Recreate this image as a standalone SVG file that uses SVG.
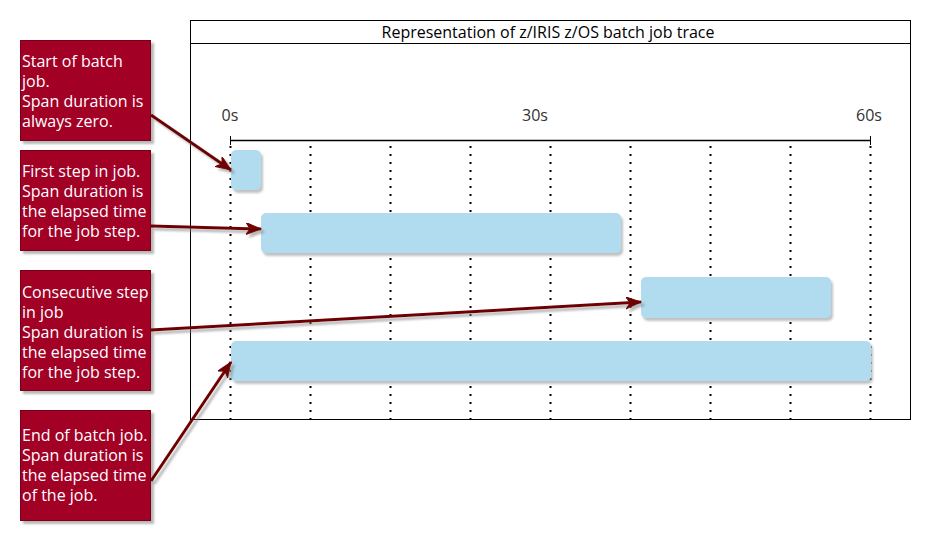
<svg xmlns="http://www.w3.org/2000/svg" width="931" height="545" viewBox="0 0 931 545">
<defs>
<filter id="sh" x="-20%" y="-20%" width="150%" height="150%">
<feDropShadow dx="3" dy="3" stdDeviation="1" flood-color="#888" flood-opacity="0.6"/>
</filter>
<filter id="shb" x="-20%" y="-20%" width="150%" height="150%">
<feDropShadow dx="2" dy="3" stdDeviation="0.8" flood-color="#999" flood-opacity="0.6"/>
</filter>
<marker id="ah" markerUnits="userSpaceOnUse" markerWidth="18" markerHeight="14" refX="15" refY="6" orient="auto">
<path d="M0,0 L15,6 L0,12 L4,6 Z" fill="#6f0000" stroke="#6f0000" stroke-width="1"/>
</marker>
<style>
.note{fill:#A30027;stroke:#7a0018;stroke-width:1;filter:url(#sh)}
.nt{font-family:"Open Sans","Noto Sans",sans-serif;font-size:16px;fill:#ffffff}
.bar{fill:#B1DCEF;filter:url(#shb)}
.dot{stroke:#000;stroke-width:2;stroke-dasharray:2 6}
.arr{stroke:#6f0000;stroke-width:3;fill:none;marker-end:url(#ah)}
.ax{font-family:"Open Sans","Noto Sans",sans-serif;font-size:16px;fill:#333}
</style>
</defs>
<rect width="931" height="545" fill="#ffffff"/>
<g id="frame">
<rect x="190.5" y="20.5" width="720" height="399" fill="none" stroke="#000" stroke-width="1"/>
<line x1="190" y1="43.5" x2="911" y2="43.5" stroke="#000" stroke-width="1"/>
<text x="548" y="38" text-anchor="middle" font-family="Open Sans, Noto Sans, sans-serif" font-size="16" fill="#000">Representation of z/IRIS z/OS batch job trace</text>
</g>
<g id="axis">
<line x1="230" y1="140.5" x2="870" y2="140.5" stroke="#000" stroke-width="1.5"/>
<line x1="230.5" y1="136" x2="230.5" y2="145" stroke="#000" stroke-width="1"/>
<line x1="870.5" y1="136" x2="870.5" y2="145" stroke="#000" stroke-width="1"/>
<text class="ax" x="230" y="121" text-anchor="middle">0s</text>
<text class="ax" x="535" y="121" text-anchor="middle">30s</text>
<text class="ax" x="869" y="121" text-anchor="middle">60s</text>
</g>
<g id="grid">
<line class="dot" x1="230.5" y1="146" x2="230.5" y2="420"/>
<line class="dot" x1="310.5" y1="146" x2="310.5" y2="420"/>
<line class="dot" x1="390.5" y1="146" x2="390.5" y2="420"/>
<line class="dot" x1="470.5" y1="146" x2="470.5" y2="420"/>
<line class="dot" x1="550.5" y1="146" x2="550.5" y2="420"/>
<line class="dot" x1="630.5" y1="146" x2="630.5" y2="420"/>
<line class="dot" x1="710.5" y1="146" x2="710.5" y2="420"/>
<line class="dot" x1="790.5" y1="146" x2="790.5" y2="420"/>
<line class="dot" x1="870.5" y1="146" x2="870.5" y2="420"/>
</g>
<g id="span-start"><rect class="bar" x="231" y="150" width="30" height="40" rx="5"/></g>
<g id="span-step1"><rect class="bar" x="261" y="213" width="360" height="40" rx="5"/></g>
<g id="span-step2"><rect class="bar" x="641" y="277" width="190" height="41" rx="5"/></g>
<g id="span-job"><rect class="bar" x="231" y="341" width="640" height="40" rx="5"/></g>
<g id="note1">
<rect class="note" x="20.5" y="40.5" width="130" height="100"/>
<text class="nt" x="22" y="67">Start of batch</text>
<text class="nt" x="22" y="87">job.</text>
<text class="nt" x="22" y="107">Span duration is</text>
<text class="nt" x="22" y="127">always zero.</text>
</g>
<g id="note2">
<rect class="note" x="20.5" y="150.5" width="130" height="100"/>
<text class="nt" x="22" y="177">First step in job.</text>
<text class="nt" x="22" y="197">Span duration is</text>
<text class="nt" x="22" y="217">the elapsed time</text>
<text class="nt" x="22" y="237">for the job step.</text>
</g>
<g id="note3">
<rect class="note" x="20.5" y="270.5" width="130" height="120"/>
<text class="nt" x="22" y="298">Consecutive step</text>
<text class="nt" x="22" y="318">in job</text>
<text class="nt" x="22" y="338">Span duration is</text>
<text class="nt" x="22" y="358">the elapsed time</text>
<text class="nt" x="22" y="378">for the job step.</text>
</g>
<g id="note4">
<rect class="note" x="20.5" y="410.5" width="130" height="110"/>
<text class="nt" x="22" y="441">End of batch job.</text>
<text class="nt" x="22" y="461">Span duration is</text>
<text class="nt" x="22" y="481">the elapsed time</text>
<text class="nt" x="22" y="501">of the job.</text>
</g>
<g id="connectors" filter="url(#sh)">
<line class="arr" x1="151" y1="115" x2="231" y2="170"/>
<line class="arr" x1="151" y1="226" x2="261" y2="229"/>
<line class="arr" x1="151" y1="330" x2="641" y2="302"/>
<line class="arr" x1="151" y1="481" x2="231" y2="362"/>
</g>
</svg>
